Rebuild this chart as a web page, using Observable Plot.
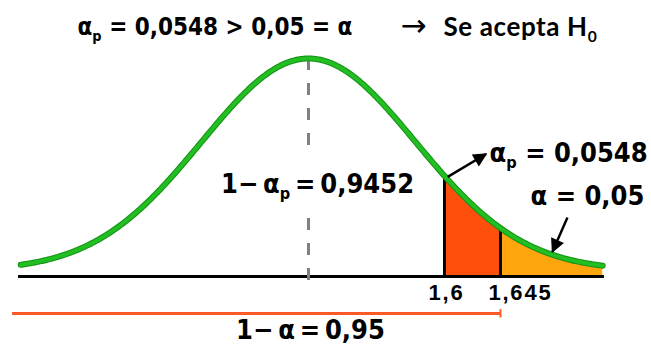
<!DOCTYPE html>
<html>
<head>
<meta charset="utf-8">
<script src="https://cdn.jsdelivr.net/npm/d3@7"></script>
<script src="https://cdn.jsdelivr.net/npm/@observablehq/plot@0.6"></script>
<style>
  body { margin: 0; background: #fff; }
</style>
</head>
<body>
<div id="chart"></div>
<script>
// Right-tailed test: observed statistic 1,6 against critical value 1,645
const statistic = 1.6;
const criticalValue = 1.645;
const cutValues = [statistic, criticalValue];
const cutLabels = ["1,6", "1,645"];
const alpha = 0.05;
const pValue = 0.0548;

const comma = (v, d) => v.toFixed(d).replace(".", ",");

// The x axis is in standard-deviation units of the drawn bell; the two cut
// points are spread apart schematically so both tails stay readable.
const sdPx = 107;
const xDomain = [-308 / sdPx, (651 - 308) / sdPx];
const place = d3.scaleLinear([0, statistic, criticalValue], [0, 1.271, 1.794]);

const lift = 0.0275;
const bell = u => lift + (1 - lift) * Math.exp(-u * u / 2);
const uMin = -2.69, uMax = 2.75;
function segment(a, b) {
  const pts = d3.range(a, b, 0.01);
  pts.push(b);
  return pts.map(u => ({u, y: bell(u)}));
}
const curve = segment(uMin, uMax);
const uStat = place(statistic), uCrit = place(criticalValue);

const narrow = '"Liberation Sans Narrow", "Arial Narrow", "DejaVu Sans Condensed", sans-serif';
const plain = '"Liberation Sans", Arial, sans-serif';

const sp = "\u2009";
const titleLeft = `α_p = ${comma(pValue, 4)} > ${comma(alpha, 2)} = α`;
const titleRight = "Se acepta H_0";
const accLabel = `1−${sp}α_p${sp}=${sp}${comma(1 - pValue, 4)}`;
const pLabel = `α_p = ${comma(pValue, 4)}`;
const aLabel = `α = ${comma(alpha, 2)}`;
const confLabel = `1−${sp}α${sp}=${sp}${comma(1 - alpha, 2)}`;

const pointers = [
  {x1: uStat + 0.03, y1: bell(uStat + 0.03) + 0.012, x2: 1.66, y2: 0.562},
  {x1: 2.42, y1: 0.271, x2: 2.28, y2: bell(2.28) + 0.014}
];

const red = "#ff4f0c", orange = "#ffa50e", line = "#ff5a26";

const chart = Plot.plot({
  width: 651,
  height: 345,
  margin: 0,
  x: {domain: xDomain, axis: null},
  y: {domain: [0, 1], range: [276, 58], axis: null},
  style: {background: "#fff", fontFamily: narrow, overflow: "visible"},
  marks: [
    // p-value tail and alpha tail
    Plot.areaY(segment(uStat, uCrit), {x: "u", y: "y", fill: red}),
    Plot.areaY(segment(uCrit, uMax), {x: "u", y: "y", fill: orange}),
    Plot.ruleX(cutValues, {x: d => place(d), y1: 0, y2: d => bell(place(d)), stroke: "#000", strokeWidth: 3}),
    // baseline
    Plot.ruleY([0], {x1: -2.71, x2: 2.766, stroke: "#000", strokeWidth: 3}),
    // dashed centre line, broken around the label
    Plot.ruleX([0], {y1: 1, y2: 0.58, stroke: "#808080", strokeWidth: 3, strokeDasharray: "12,13"}),
    Plot.ruleX([0], {y1: -0.018, y2: 0.29, stroke: "#808080", strokeWidth: 3, strokeDasharray: "12,13"}),
    // density curve
    Plot.line(curve, {x: "u", y: "y", stroke: "#179417", strokeWidth: 6}),
    Plot.line(curve, {x: "u", y: "y", stroke: "#22bf22", strokeWidth: 3.8}),
    // 1 - alpha bracket
    Plot.ruleY([-0.17], {x1: -2.766, x2: uCrit, stroke: line, strokeWidth: 3}),
    Plot.ruleX([criticalValue], {x: d => place(d), y1: -0.152, y2: -0.19, stroke: line, strokeWidth: 2}),
    // cut labels
    Plot.text([statistic], {x: d => place(d), y: -0.074, text: () => cutLabels[0], dx: 2,
      fontSize: 22, fontFamily: plain, fontWeight: "bold", ariaDescription: "cut-label"}),
    Plot.text([criticalValue], {x: d => place(d), y: -0.074, text: () => cutLabels[1], dx: 20,
      fontSize: 22, fontFamily: plain, fontWeight: "bold", ariaDescription: "cut-label"}),
    // annotations
    Plot.text([accLabel], {x: 0, y: 0.422, text: d => d, dx: 9, fontSize: 27, fontWeight: "bold"}),
    Plot.text([pLabel], {x: 1.692, y: 0.564, text: d => d, textAnchor: "start", fontSize: 27, fontWeight: "bold"}),
    Plot.text([aLabel], {x: 2.075, y: 0.367, text: d => d, textAnchor: "start", fontSize: 27, fontWeight: "bold"}),
    Plot.text([confLabel], {x: 0, y: -0.248, text: d => d, dx: 2, fontSize: 27, fontWeight: "bold"}),
    Plot.link(pointers, {x1: "x1", y1: "y1", x2: "x2", y2: "y2", stroke: "#000", strokeWidth: 2.5, ariaDescription: "pointer"}),
    // title
    Plot.text([titleLeft], {frameAnchor: "top-left", dx: 77, dy: 27, text: d => d, textAnchor: "start", lineAnchor: "middle", fontSize: 24, fontWeight: "bold"}),
    Plot.text(["→"], {frameAnchor: "top-left", dx: 400, dy: 26, text: d => d, lineAnchor: "middle", fontSize: 31, fontFamily: '"DejaVu Sans", sans-serif'}),
    Plot.text([titleRight], {frameAnchor: "top-left", dx: 443, dy: 27, text: d => d, textAnchor: "start", lineAnchor: "middle", fontSize: 26, fontWeight: "bold", fontFamily: 'Lato, "Open Sans", sans-serif', ariaDescription: "verdict"})
  ]
});

// subscripts written as "_x" become lowered small tspans
d3.select(chart).selectAll("text").each(function () {
  const s = this.textContent;
  if (!s.includes("_")) return;
  const parts = s.split(/_(.)/);
  this.textContent = "";
  parts.forEach((p, i) => {
    const t = document.createElementNS("http://www.w3.org/2000/svg", "tspan");
    if (i % 2 === 1) {
      t.setAttribute("font-size", "0.6em");
      t.setAttribute("dy", "0.38em");
    } else if (i > 0) {
      t.setAttribute("dy", "-0.228em");
    }
    t.textContent = p;
    this.appendChild(t);
  });
});

// elements of the mark groups tagged with a given aria-description
function tagged(label, tag) {
  const out = [];
  d3.select(chart).selectAll(`[aria-description="${label}"]`).each(function () {
    if (this.tagName.toLowerCase() === tag) out.push(this);
    else this.querySelectorAll(tag).forEach(el => out.push(el));
  });
  return d3.selectAll(out);
}

tagged("cut-label", "text").style("letter-spacing", "1.8px");
tagged("verdict", "text").style("letter-spacing", "0.6px");

// filled arrowheads for the pointers
const defs = d3.select(chart).append("defs");
defs.append("marker")
  .attr("id", "pointer-head")
  .attr("viewBox", "0 -5 10 10")
  .attr("refX", 9).attr("refY", 0)
  .attr("markerUnits", "userSpaceOnUse")
  .attr("markerWidth", 17).attr("markerHeight", 14)
  .attr("orient", "auto")
  .append("path").attr("d", "M0,-5L10,0L0,5Z").attr("fill", "#000");
tagged("pointer", "path").attr("marker-end", "url(#pointer-head)");

document.getElementById("chart").appendChild(chart);
</script>
</body>
</html>
